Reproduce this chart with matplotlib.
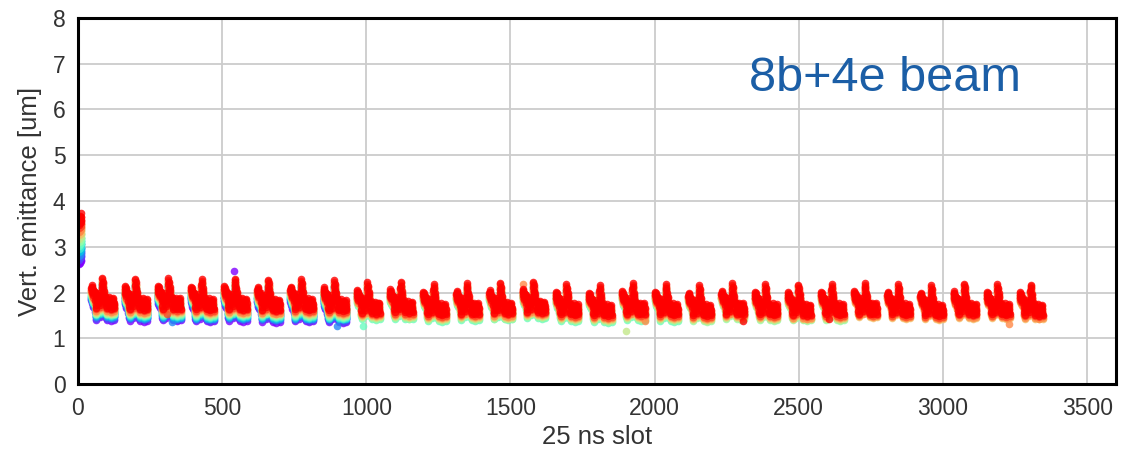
import numpy as np
import matplotlib
matplotlib.use("Agg")
import matplotlib.pyplot as plt

plt.rcParams['font.family'] = ['Liberation Sans', 'DejaVu Sans']

# --- data -------------------------------------------------------------
# first 25 ns slot of each 56-bunch train (7 x (8b+4e))
train_starts = [47, 162, 277, 392, 507, 622, 737, 852, 967, 1082, 1197, 1312,
                1427, 1542, 1657, 1772, 1887, 2002, 2117, 2232, 2347, 2462,
                2577, 2692, 2807, 2922, 3037, 3152, 3267]

# latest vertical emittance [um] along a train, one row per 8-bunch group
train_profile = [
    [1.95, 2.02, 1.88, 1.98, 1.84, 1.92, 1.80, 1.90],
    [1.88, 1.70, 1.82, 1.58, 1.75, 1.52, 1.66, 1.78],
    [1.80, 1.68, 1.85, 1.62, 1.76, 1.70, 1.58, 1.72],
    [2.05, 2.18, 1.95, 2.10, 1.86, 1.98, 1.78, 1.90],
    [1.78, 1.62, 1.74, 1.56, 1.70, 1.64, 1.52, 1.68],
    [1.70, 1.58, 1.76, 1.54, 1.66, 1.60, 1.50, 1.62],
    [1.72, 1.60, 1.68, 1.55, 1.74, 1.58, 1.64, 1.52],
]

# per-train shift of the emittance level [um]
train_offsets = [0.14, 0.12, 0.13, 0.11, 0.12, 0.10, 0.11, 0.09, 0.04, 0.05,
                 0.00, 0.02, 0.03, 0.06, 0.00, -0.02, 0.02, 0.00, -0.02, 0.02,
                 0.00, -0.01, 0.00, 0.02, 0.00, -0.02, 0.01, 0.00, -0.01]

# index of the first measurement that sees each train
first_meas = [0, 0, 0, 0, 0, 0, 0, 0,
              5, 5, 5, 5, 5, 5, 5, 5, 5, 5,
              6, 6, 6, 6, 6,
              8, 8, 8, 8, 8, 8]

# emittance deficit w.r.t. the latest measurement [um], one per measurement
meas_deficit = [0.26, 0.23, 0.20, 0.18, 0.16, 0.14, 0.12, 0.10, 0.08, 0.06, 0.03, 0.00]

# leading 12-bunch train
pilot_slots = [1, 2, 3, 4, 5, 6, 7, 8, 9, 10, 11, 12]
pilot_levels = [2.62, 2.72, 2.80, 2.88, 2.95, 3.02, 3.10, 3.18, 3.25, 3.32, 3.40, 3.48]
pilot_spread = [0.15, 0.10, 0.05, 0.12, 0.00, 0.08, 0.20, 0.03, 0.10, 0.25, 0.06, 0.18]

# isolated bunches: slot, emittance, measurement index
outlier_slots = [540, 326, 900, 988, 1902, 1965, 3230, 1542, 890, 308, 2305, 2605]
outlier_values = [2.48, 1.36, 1.27, 1.27, 1.16, 1.38, 1.32, 2.19, 2.15, 1.53, 1.38, 1.42]
outlier_meas = [0, 2, 2, 5, 7, 9, 9, 9, 8, 10, 11, 11]

# --- assemble points per measurement ---------------------------------
n_meas = len(meas_deficit)
cmap = matplotlib.colormaps['rainbow']
points = {k: ([], []) for k in range(n_meas)}

for k in range(n_meas):
    xs, ys = points[k]
    for s, sp in zip(pilot_slots, pilot_spread):
        xs.append(s)
        ys.append(pilot_levels[k] + sp)
    for t, start in enumerate(train_starts):
        if k < first_meas[t]:
            continue
        for g, group in enumerate(train_profile):
            for b, val in enumerate(group):
                xs.append(start + g * 12 + b)
                ys.append(val + train_offsets[t] - meas_deficit[k])

for s, v, k in zip(outlier_slots, outlier_values, outlier_meas):
    points[k][0].append(s)
    points[k][1].append(v)

# --- figure -----------------------------------------------------------
fig = plt.figure(figsize=(11.28, 4.53), dpi=100)
ax = fig.add_axes([0.0691, 0.1523, 0.9202, 0.808])

for k in range(n_meas):
    xs, ys = points[k]
    ax.scatter(xs, ys, s=30, color=cmap(k / (n_meas - 1)), alpha=0.8,
               linewidths=0, zorder=2)

ax.set_xlim(0, 3600)
ax.set_ylim(0, 8)
ax.set_xticks(np.arange(0, 3501, 500))
ax.set_yticks(np.arange(0, 9, 1))
ax.grid(True, color='#cccccc', linewidth=1.3, zorder=0)
ax.set_axisbelow(True)
ax.tick_params(length=0, labelsize=16.5, colors='#333333', pad=9)
for sp in ax.spines.values():
    sp.set_color('black')
    sp.set_linewidth(2.2)

ax.set_xlabel('25 ns slot', fontsize=18.5, color='#333333', labelpad=4)
ax.set_ylabel('Vert. emittance [um]', fontsize=18.5, color='#333333', labelpad=8)

ax.text(0.778, 0.836, '8b+4e beam', transform=ax.transAxes, ha='center',
        va='center', fontsize=35, color='#1b5ea6')

fig.savefig('out.png', dpi=100)
